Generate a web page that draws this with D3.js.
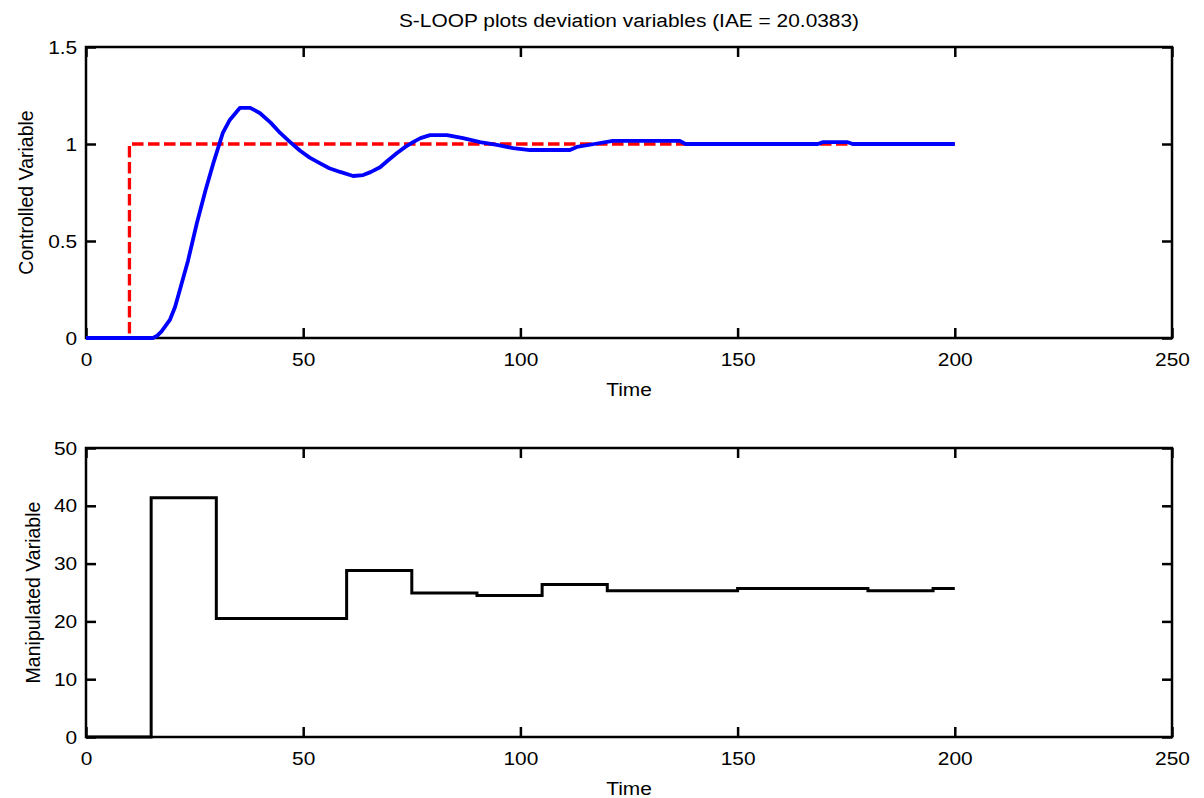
<!DOCTYPE html>
<html>
<head>
<meta charset="utf-8">
<script src="https://cdn.jsdelivr.net/npm/d3@7/dist/d3.min.js"></script>
<style>
  body { margin: 0; background: #fff; }
  text { font-family: "Liberation Sans", Arial, Helvetica, sans-serif; fill: #000; }
</style>
</head>
<body>
<div id="my_dataviz"></div>
<script>
// controlled variable (blue)
var cvTime = [0, 14, 15.4, 16.3, 17.4, 19.3, 20.5, 21.6, 23.5, 25.5, 27.5, 29.3, 31.5, 33.1, 35.4, 37.8, 40,
              42.5, 44.7, 47, 49.3, 51.5, 53.9, 56, 58.5, 61.5, 63.8, 65.5, 67.7, 69.5, 71.6, 73.5,
              75.3, 77, 79.2, 83.1, 86.8, 90.7, 94.6, 98.3, 102.2, 111.4, 113, 117, 121.3, 136.7,
              138, 168.5, 169.7, 175.2, 176.5, 200];
var cvValue = [0, 0, 0, 0.01, 0.034, 0.093, 0.16, 0.247, 0.40, 0.59, 0.76, 0.90, 1.057, 1.124, 1.186, 1.186, 1.16,
               1.11, 1.057, 1.01, 0.965, 0.93, 0.90, 0.875, 0.856, 0.835, 0.84, 0.855, 0.88, 0.915, 0.954, 0.985,
               1.01, 1.03, 1.046, 1.046, 1.03, 1.01, 0.995, 0.979, 0.969, 0.969, 0.985, 1.0, 1.016, 1.016,
               1.0, 1.0, 1.01, 1.01, 1.0, 1.0];
// setpoint (red dashed)
var spTime = [0, 10, 10, 200];
var spValue = [0, 0, 1, 1];
// manipulated variable (black, zero order hold)
var mvTime = [0, 15, 30, 60, 75, 90, 105, 120, 150, 180, 195, 200];
var mvValue = [0, 41.4, 20.5, 28.8, 24.9, 24.5, 26.4, 25.3, 25.7, 25.3, 25.7, 25.7];

var xTicks = [0, 50, 100, 150, 200, 250];
var cvTicks = [0, 0.5, 1, 1.5];
var mvTicks = [0, 10, 20, 30, 40, 50];

var W = 1204, H = 798;
var left = 86, right = 1172;
var fs = "19px";
var sx = 1.1; // text in the picture is a bit stretched sideways

var svg = d3.select('#my_dataviz')
    .append('svg')
    .attr('width', W)
    .attr('height', H);

function htext(x, y, str) {
    svg.append("text")
        .attr("transform", "translate(" + x + "," + y + ") scale(" + sx + ",1)")
        .style("text-anchor", "middle")
        .style("font-size", fs)
        .text(str);
}

function panel(top, bottom, yDomain, yTicks, ylabel, ylabelX) {
    var x = d3.scaleLinear().domain([0, 250]).range([left, right]);
    var y = d3.scaleLinear().domain(yDomain).range([bottom, top]);
    var g = svg.append("g");

    // ticks on all four sides, pointing in
    g.append("g")
        .attr("transform", "translate(0," + bottom + ")")
        .call(d3.axisBottom(x).tickValues(xTicks).tickSizeInner(-10).tickSizeOuter(0).tickPadding(15))
        .call(function(a){ a.select(".domain").remove(); });
    g.append("g")
        .attr("transform", "translate(0," + top + ")")
        .call(d3.axisTop(x).tickValues(xTicks).tickSizeInner(-10).tickSizeOuter(0).tickFormat(""))
        .call(function(a){ a.select(".domain").remove(); });
    g.append("g")
        .attr("transform", "translate(" + left + ",0)")
        .call(d3.axisLeft(y).tickValues(yTicks).tickSizeInner(-10).tickSizeOuter(0).tickPadding(8).tickFormat(d3.format("")))
        .call(function(a){ a.select(".domain").remove(); });
    g.append("g")
        .attr("transform", "translate(" + right + ",0)")
        .call(d3.axisRight(y).tickValues(yTicks).tickSizeInner(-10).tickSizeOuter(0).tickFormat(""))
        .call(function(a){ a.select(".domain").remove(); });

    g.selectAll(".tick line").attr("stroke", "#000").attr("stroke-width", 2.5);
    g.selectAll(".tick text")
        .attr("fill", "#000")
        .style("font-size", fs)
        .attr("transform", "scale(" + sx + ",1)");

    svg.append("rect")
        .attr("x", left).attr("y", top)
        .attr("width", right - left).attr("height", bottom - top)
        .attr("fill", "none").attr("stroke", "#000").attr("stroke-width", 2.5);

    htext((left + right) / 2, bottom + 58, "Time");

    svg.append("text")
        .attr("transform", "translate(" + ylabelX + "," + (top + bottom) / 2 + ") rotate(-90)")
        .style("text-anchor", "middle")
        .style("font-size", "19.5px")
        .text(ylabel);

    return {x: x, y: y};
}

// top panel
var p1 = panel(47, 338, [0, 1.5], cvTicks, "Controlled Variable", 33);
var line1 = d3.line().x(function(d){ return p1.x(d[0]); }).y(function(d){ return p1.y(d[1]); });

svg.append("path")
    .attr("fill", "none")
    .attr("stroke", "#ff0000")
    .attr("stroke-width", 3.3)
    .attr("stroke-dasharray", "11.5,4.5")
    .attr("d", line1(d3.zip(spTime, spValue)));

svg.append("path")
    .attr("fill", "none")
    .attr("stroke", "#0000ff")
    .attr("stroke-width", 3.8)
    .attr("stroke-linejoin", "round")
    .attr("d", line1(d3.zip(cvTime, cvValue)));

// bottom panel
var p2 = panel(448, 737, [0, 50], mvTicks, "Manipulated Variable", 40);
var line2 = d3.line().curve(d3.curveStepAfter)
    .x(function(d){ return p2.x(d[0]); }).y(function(d){ return p2.y(d[1]); });

svg.append("path")
    .attr("fill", "none")
    .attr("stroke", "#000")
    .attr("stroke-width", 3)
    .attr("d", line2(d3.zip(mvTime, mvValue)));

// title
htext((left + right) / 2, 27, "S-LOOP plots deviation variables (IAE = 20.0383)");
</script>
</body>
</html>
